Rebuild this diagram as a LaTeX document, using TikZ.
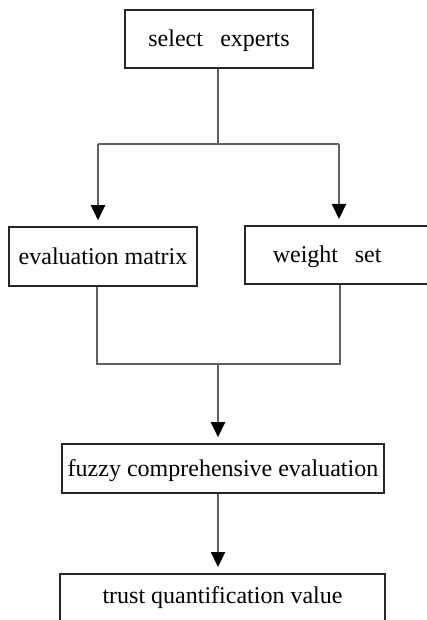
\documentclass[tikz,border=0pt]{standalone}
\usepackage{fontspec}
\setmainfont{Liberation Serif}
\usetikzlibrary{arrows.meta}

\begin{document}
\begin{tikzpicture}[x=1pt,y=-1pt,
  box/.style={draw=black!85, line width=1.6pt, rectangle, inner sep=0pt,
    font=\fontsize{24}{28}\selectfont, text height=17pt, text depth=2pt},
  link/.style={draw=black!62, line width=2.2pt},
  flow/.style={link, -{Triangle[length=15pt,width=14pt,black]}, shorten >=6pt}]
  \useasboundingbox (0,0) rectangle (427,620);
  \clip (0,0) rectangle (427,620);

  % process boxes
  \node[box, minimum width=188pt, minimum height=58pt] (b1) at (219,39)
    {select\hspace{0.72em}experts};
  \node[box, minimum width=188pt, minimum height=59pt] (b2) at (103,256.5)
    {evaluation matrix};
  \node[box, anchor=north west, minimum height=58pt, text width=152pt,
    align=left, inner xsep=28pt] (b3) at (244,225)
    {weight\hspace{0.7em}set};
  \node[box, minimum width=322pt, minimum height=49pt] (b4) at (223,468.5)
    {fuzzy comprehensive evaluation};
  \node[box, anchor=north, minimum width=325pt, text height=30pt,
    text depth=30pt] (b5) at (222.5,573)
    {trust quantification value};

  % junction points of the connectors
  \coordinate (split) at (218,144);
  \coordinate (splitL) at (98,144);
  \coordinate (splitR) at (339,144);
  \coordinate (merge) at (218,364);
  \coordinate (mergeL) at (97,364);
  \coordinate (mergeR) at (340,364);

  % fan out from the experts to both inputs
  \draw[link] (b1.south -| split) -- (split);
  \draw[link] (splitL) -- (splitR);
  \draw[flow] (splitL) -- (splitL |- b2.north);
  \draw[flow] (splitR) -- (splitR |- b3.north);

  % merge both inputs into the evaluation
  \draw[link] (mergeL |- b2.south) -- (mergeL) -- (mergeR) -- (mergeR |- b3.south);
  \draw[flow] (merge) -- (merge |- b4.north);
  \draw[flow] (merge |- b4.south) -- (merge |- b5.north);
\end{tikzpicture}
\end{document}
